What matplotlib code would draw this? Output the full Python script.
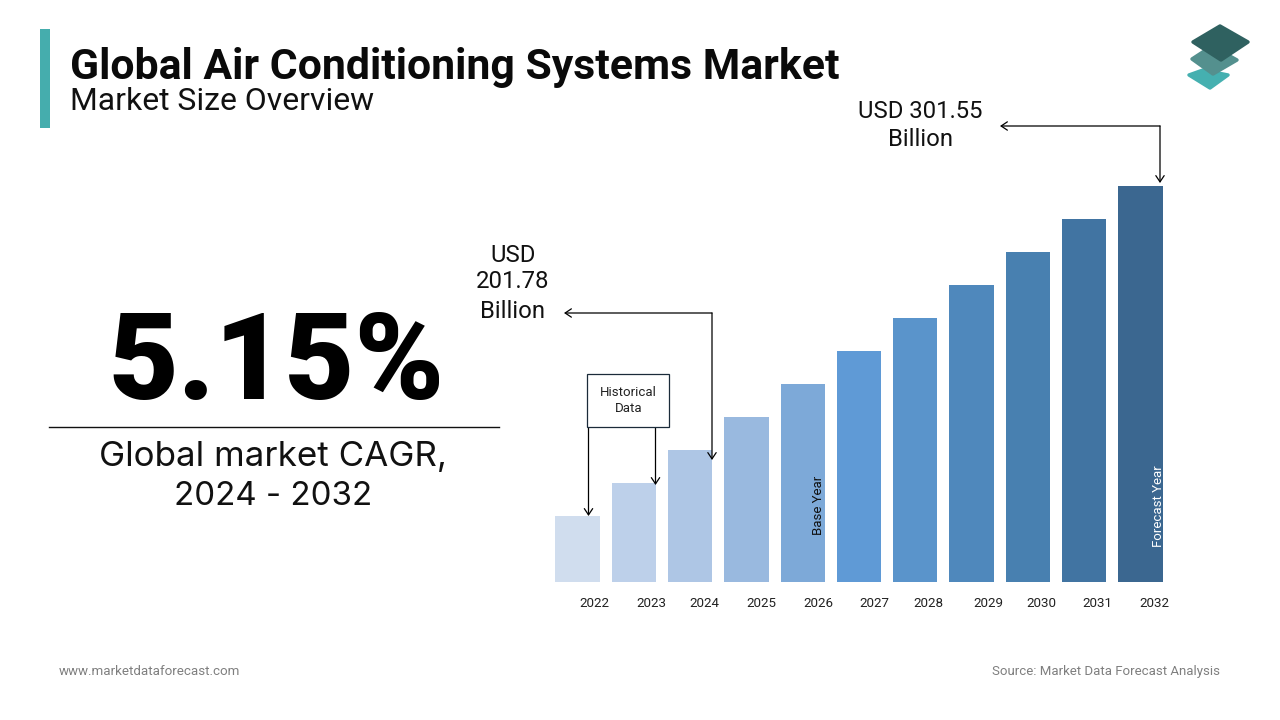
import matplotlib
matplotlib.use('Agg')
import matplotlib.pyplot as plt
from matplotlib.patches import Polygon, Rectangle

W, H = 1280, 720
years = ['2022', '2023', '2024', '2025', '2026', '2027', '2028', '2029', '2030', '2031', '2032']
# Bar heights (schematic scale, in pixels of height)
heights = [66, 99, 132, 165, 198, 231, 264, 297, 330, 363, 396]
bar_colors = ['#D0DDEE', '#BDD0EA', '#AEC6E5', '#99B9DF', '#7DA9D8', '#5F9AD6',
              '#5A94CB', '#4F88BC', '#4880B0', '#4174A2', '#3B6790']
label_centers_px = [594, 651, 704, 761, 818, 874, 928, 988, 1041, 1097, 1154]

plt.rcParams['font.family'] = ['Roboto', 'DejaVu Sans']
fig = plt.figure(figsize=(12.8, 7.2), dpi=100, facecolor='white')

# bar axes: x in pixels, y in bar-height units
L, R, T, B = 540, 1180, 170, 582
ax = fig.add_axes([L / W, 1 - B / H, (R - L) / W, (B - T) / H])
x0, step, bw = 577.5, 56.3, 44.4
xs = [x0 + i * step for i in range(len(years))]
ax.bar(xs, heights, width=bw, color=bar_colors, linewidth=0)
ax.set_xlim(L, R)
ax.set_ylim(0, B - T)
for s in ax.spines.values():
    s.set_visible(False)
ax.patch.set_alpha(0)
ax.set_yticks([])
ax.set_xticks(label_centers_px)
ax.set_xticklabels(years, fontsize=9.6, color='#222222')
ax.tick_params(axis='x', length=0, pad=11)

# overlay in pixel coordinates
ov = fig.add_axes([0, 0, 1, 1], zorder=5)
ov.set_xlim(0, W)
ov.set_ylim(H, 0)
ov.axis('off')

ov.add_patch(Rectangle((40, 29), 10, 99, color='#45ADAD', lw=0))
ov.text(69.5, 79, 'Global Air Conditioning Systems Market', fontsize=30.78, fontweight='bold', color='#0A0A0A', va='baseline')
ov.text(69.5, 110, 'Market Size Overview', fontsize=22.95, color='#111111', va='baseline')

# logo
def layer(pts, c):
    ov.add_patch(Polygon(pts, fc=c, ec=c, lw=2.5, joinstyle='round'))
layer([(1189, 75), (1203, 70), (1228, 75), (1210, 88)], '#45B0B0')
layer([(1192, 59), (1212, 46), (1237, 60), (1213, 74)], '#54908E')
layer([(1193, 42), (1220, 26), (1248, 42), (1221, 60)], '#2F6160')

# left panel
ov.text(277, 399, '5.15%', fontsize=87, fontweight='black', family=['Roboto', 'Inter'], color='black', ha='center', va='baseline')
ov.plot([49, 499], [427, 427], color='#111111', lw=1)
ov.text(273, 466, 'Global market CAGR,', fontsize=25.2, family=['Inter', 'Roboto'], color='#111111', ha='center', va='baseline')
ov.text(273, 505, '2024 - 2032', fontsize=23.8, family=['Inter', 'Roboto'], color='#111111', ha='center', va='baseline')

# callouts
ov.text(513, 255, 'USD', fontsize=17.2, color='#111111', ha='center', va='center')
ov.text(513, 282, '201.78', fontsize=17.2, color='#111111', ha='center', va='center')
ov.text(513, 312, 'Billion', fontsize=17.2, color='#111111', ha='center', va='center')
ov.text(920, 112, 'USD 301.55', fontsize=17.2, color='#111111', ha='center', va='center')
ov.text(920, 139, 'Billion', fontsize=17.2, color='#111111', ha='center', va='center')

arrow = dict(arrowstyle='->,head_length=0.45,head_width=0.3', color='black', lw=0.9, shrinkA=0, shrinkB=0)
ov.annotate('', xy=(564, 313), xytext=(712, 313), arrowprops=arrow)
ov.annotate('', xy=(712, 460), xytext=(712, 313), arrowprops=arrow)
ov.annotate('', xy=(1000, 126), xytext=(1160, 126), arrowprops=arrow)
ov.annotate('', xy=(1160, 183), xytext=(1160, 126), arrowprops=arrow)
ov.annotate('', xy=(588.5, 516), xytext=(588.5, 427), arrowprops=arrow)
ov.annotate('', xy=(655.5, 485), xytext=(655.5, 427), arrowprops=arrow)

ov.add_patch(Rectangle((587, 373.5), 82, 53.5, fc='white', ec='#1B2B3A', lw=0.9, zorder=3))
ov.text(628.5, 393, 'Historical', fontsize=9.5, color='#222222', ha='center', va='center', zorder=4)
ov.text(628.5, 409, 'Data', fontsize=9.5, color='#222222', ha='center', va='center', zorder=4)

ov.text(819, 505, 'Base Year', fontsize=9.5, rotation=90, color='#111111', ha='center', va='center')
ov.text(1158, 506, 'Forecast Year', fontsize=9.55, rotation=90, color='white', ha='center', va='center')

# footer
ov.text(59, 671.5, 'www.marketdataforecast.com', fontsize=9.6, color='#7F7F7F', va='center')
ov.text(1220, 671, 'Source: Market Data Forecast Analysis', fontsize=9.55, color='#7F7F7F', ha='right', va='center')

fig.savefig('out.png', dpi=100, facecolor='white')
